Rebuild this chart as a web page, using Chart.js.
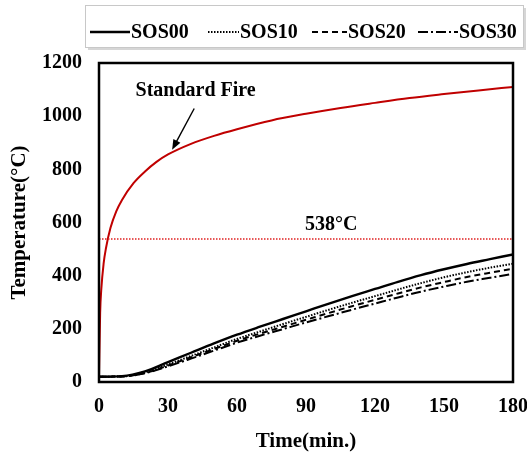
<!DOCTYPE html>
<html>
<head>
<meta charset="utf-8">
<script src="https://cdn.jsdelivr.net/npm/chart.js@4/dist/chart.umd.min.js"></script>
<style>
  html, body { margin: 0; padding: 0; background: #fff; }
  canvas { display: block; }
</style>
</head>
<body>
<canvas id="chartTemp" width="527" height="454"></canvas>
<script>
// ── Temperature vs time under standard fire ──────────────────

const FONT = '"Liberation Serif", "Times New Roman", serif';

// standard fire curve (min, °C)
const fireTime = [0, 0.5, 1, 2, 3, 5, 7.5, 10, 15, 20, 25, 30, 40, 50, 60, 75, 90, 105, 120, 135, 150, 165, 180];
const fireTemp = [20, 261, 349, 445, 502, 580, 642, 685, 748, 792, 828, 856, 896, 926, 951, 984, 1009, 1031, 1050, 1068, 1083, 1097, 1110];

// specimen curves (min, °C)
const time  = [0, 10, 20, 30, 40, 50, 60, 70, 80, 90, 100, 110, 120, 130, 140, 150, 160, 170, 180];
const sos00 = [20, 22, 40, 75, 110, 145, 178, 208, 237, 266, 295, 323, 350, 377, 402, 424, 444, 462, 480];
const sos10 = [20, 21, 36, 66, 98, 130, 162, 190, 218, 245, 272, 298, 323, 348, 372, 394, 413, 430, 445];
const sos20 = [20, 21, 34, 62, 93, 124, 155, 182, 208, 234, 260, 285, 309, 333, 356, 376, 395, 411, 426];
const sos30 = [20, 21, 33, 59, 88, 118, 148, 174, 199, 224, 248, 272, 295, 318, 340, 359, 377, 392, 407];

const criticalTemp = 538;
const xTicks = [0, 30, 60, 90, 120, 150, 180];

const pts = (xs, ys) => xs.map((v, i) => ({ x: v, y: ys[i] }));

const series = [
  { label: "SOS00", data: sos00, dash: [],              width: 2.4 },
  { label: "SOS10", data: sos10, dash: [1.5, 1.5],      width: 2 },
  { label: "SOS20", data: sos20, dash: [6, 4],          width: 2 },
  { label: "SOS30", data: sos30, dash: [10, 3, 2, 3],   width: 2 },
];

const overlay = {
  id: "overlay",
  afterDatasetsDraw(chart) {
    const { ctx, chartArea: a, scales: { x, y } } = chart;
    ctx.save();

    // plot frame
    ctx.strokeStyle = "#000";
    ctx.lineWidth = 2.5;
    ctx.strokeRect(a.left, a.top, a.right - a.left, a.bottom - a.top);

    // annotations
    ctx.fillStyle = "#000";
    ctx.font = `bold 20px ${FONT}`;
    ctx.textAlign = "center";
    ctx.textBaseline = "middle";
    ctx.fillText("Standard Fire", x.getPixelForValue(42), y.getPixelForValue(1097));
    ctx.fillText("538°C", x.getPixelForValue(101), y.getPixelForValue(593));

    // arrow to the fire curve
    const x0 = x.getPixelForValue(41.4), y0 = y.getPixelForValue(1029);
    const x1 = x.getPixelForValue(31.8), y1 = y.getPixelForValue(874);
    const ang = Math.atan2(y1 - y0, x1 - x0);
    ctx.lineWidth = 1.4;
    ctx.beginPath();
    ctx.moveTo(x0, y0);
    ctx.lineTo(x1 - 6 * Math.cos(ang), y1 - 6 * Math.sin(ang));
    ctx.stroke();
    ctx.beginPath();
    ctx.moveTo(x1, y1);
    ctx.lineTo(x1 - 10 * Math.cos(ang) + 4 * Math.sin(ang), y1 - 10 * Math.sin(ang) - 4 * Math.cos(ang));
    ctx.lineTo(x1 - 10 * Math.cos(ang) - 4 * Math.sin(ang), y1 - 10 * Math.sin(ang) + 4 * Math.cos(ang));
    ctx.closePath();
    ctx.fill();

    // legend box
    const bx = 85, by = 5, bw = 438, bh = 42;
    ctx.fillStyle = "#d6d6d6";
    ctx.fillRect(bx + 3, by + 3, bw, bh);
    ctx.fillStyle = "#fff";
    ctx.fillRect(bx, by, bw, bh);
    ctx.strokeStyle = "#c8c8c8";
    ctx.lineWidth = 1;
    ctx.strokeRect(bx + 0.5, by + 0.5, bw, bh);

    const ly = 32;
    const slots = [[90, 130], [208, 239], [312, 347], [418, 458]];
    ctx.font = `bold 20px ${FONT}`;
    ctx.textAlign = "left";
    ctx.textBaseline = "middle";
    series.forEach((s, i) => {
      const [sx, ex] = slots[i];
      ctx.strokeStyle = "#000";
      ctx.lineWidth = s.width;
      ctx.setLineDash(s.dash);
      ctx.beginPath();
      ctx.moveTo(sx, ly);
      ctx.lineTo(ex, ly);
      ctx.stroke();
      ctx.setLineDash([]);
      ctx.fillStyle = "#000";
      ctx.fillText(s.label, ex + 1, ly + 1);
    });

    ctx.restore();
  },
};

new Chart(document.getElementById("chartTemp"), {
  type: "line",
  data: {
    datasets: [
      {
        label: "538",
        data: pts([0, 180], [criticalTemp, criticalTemp]),
        borderColor: "#e02020",
        borderWidth: 1.3,
        borderDash: [1.5, 1.5],
      },
      {
        label: "Standard Fire",
        data: pts(fireTime, fireTemp),
        borderColor: "#c00000",
        borderWidth: 2,
        cubicInterpolationMode: "monotone",
      },
      ...series.map((s) => ({
        label: s.label,
        data: pts(time, s.data),
        borderColor: "#000",
        borderWidth: s.width,
        borderDash: s.dash,
        cubicInterpolationMode: "monotone",
      })),
    ],
  },
  options: {
    responsive: false,
    animation: false,
    elements: { point: { radius: 0 } },
    layout: { padding: { top: 63, right: 14, left: 0, bottom: 0 } },
    plugins: { legend: { display: false }, tooltip: { enabled: false } },
    scales: {
      x: {
        type: "linear",
        min: 0,
        max: 180,
        afterBuildTicks: (s) => { s.ticks = xTicks.map((v) => ({ value: v })); },
        afterFit: (s) => {
          s.height = 72;
          s.paddingLeft = 0;
          s.paddingRight = 0;
        },
        grid: { display: false, drawTicks: false },
        border: { display: false },
        ticks: { color: "#000", padding: 13, font: { family: FONT, size: 20, weight: "bold" } },
        title: {
          display: true,
          text: "Time(min.)",
          color: "#000",
          padding: { top: 0, bottom: 0 },
          font: { family: FONT, size: 21, weight: "bold" },
        },
      },
      y: {
        min: 0,
        max: 1200,
        afterFit: (s) => { s.width = 99; },
        grid: { display: false, drawTicks: false },
        border: { display: false },
        ticks: {
          stepSize: 200,
          color: "#000",
          padding: 17,
          font: { family: FONT, size: 20, weight: "bold" },
          callback: (v) => String(v),
        },
        title: {
          display: true,
          text: "Temperature(°C)",
          color: "#000",
          padding: { top: 7, bottom: 0 },
          font: { family: FONT, size: 21, weight: "bold" },
        },
      },
    },
  },
  plugins: [overlay],
});
</script>
</body>
</html>
